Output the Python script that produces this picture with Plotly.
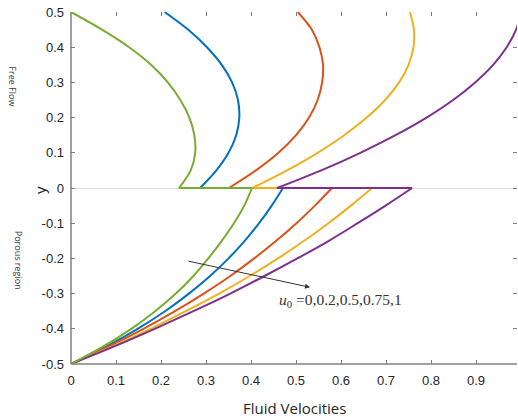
import plotly.graph_objects as go

# Velocity profiles for five values of the interface velocity u0
labels = ["u0=0.2", "u0=0.5", "u0=0.75", "u0=1", "u0=0"]
colors = ["#0072BD", "#D95319", "#EDB120", "#7E2F8E", "#77AC30"]

# Free-flow region, y from 0.5 down to 0
y_free = [0.5, 0.45, 0.4, 0.35, 0.3, 0.25, 0.2, 0.15, 0.1, 0.05, 0.0]
u_free = [
    [0.208, 0.260, 0.302, 0.335, 0.358, 0.371, 0.374, 0.367, 0.350, 0.323, 0.287],
    [0.504, 0.535, 0.552, 0.560, 0.558, 0.548, 0.529, 0.500, 0.461, 0.411, 0.351],
    [0.753, 0.762, 0.761, 0.750, 0.729, 0.698, 0.657, 0.607, 0.548, 0.480, 0.403],
    [1.000, 0.989, 0.968, 0.938, 0.898, 0.849, 0.790, 0.721, 0.643, 0.556, 0.458],
    [0.000, 0.069, 0.129, 0.178, 0.215, 0.243, 0.263, 0.274, 0.276, 0.266, 0.240],
]

# Porous region, y from 0 down to -0.5
y_por = [0.0, -0.05, -0.1, -0.15, -0.2, -0.25, -0.3, -0.35, -0.4, -0.45, -0.5]
u_por = [
    [0.471, 0.446, 0.418, 0.386, 0.350, 0.309, 0.262, 0.209, 0.148, 0.079, 0.0],
    [0.580, 0.542, 0.501, 0.456, 0.407, 0.354, 0.295, 0.231, 0.161, 0.084, 0.0],
    [0.669, 0.622, 0.572, 0.518, 0.460, 0.397, 0.329, 0.255, 0.177, 0.092, 0.0],
    [0.758, 0.699, 0.637, 0.573, 0.503, 0.430, 0.354, 0.272, 0.186, 0.096, 0.0],
    [0.402, 0.385, 0.362, 0.335, 0.305, 0.272, 0.233, 0.187, 0.134, 0.072, 0.0],
]

x_ticks = [0, 0.1, 0.2, 0.3, 0.4, 0.5, 0.6, 0.7, 0.8, 0.9]
x_tick_text = ["0", "0.1", "0.2", "0.3", "0.4", "0.5", "0.6", "0.7", "0.8", "0.9"]
y_ticks = [-0.5, -0.4, -0.3, -0.2, -0.1, 0, 0.1, 0.2, 0.3, 0.4, 0.5]
y_tick_text = ["-0.5", "-0.4", "-0.3", "-0.2", "-0.1", "0", "0.1", "0.2", "0.3", "0.4", "0.5"]

fig = go.Figure()
for name, col, uf, up in zip(labels, colors, u_free, u_por):
    line = dict(color=col, width=2)
    fig.add_trace(go.Scatter(x=uf, y=y_free, mode="lines", name=name,
                             line=dict(line, shape="spline", smoothing=1),
                             showlegend=False))
    # jump across the interface at y = 0
    fig.add_trace(go.Scatter(x=[uf[-1], up[0]], y=[0, 0], mode="lines",
                             line=line, showlegend=False))
    fig.add_trace(go.Scatter(x=up, y=y_por, mode="lines",
                             line=dict(line, shape="spline", smoothing=1),
                             showlegend=False))

tick_font = dict(family="Liberation Sans, Arial", size=13, color="#262626")
fig.update_xaxes(range=[0, 0.991], tickvals=x_ticks, ticktext=x_tick_text,
                 ticks="inside", ticklen=4, tickcolor="#808080", mirror="ticks",
                 showline=False, showgrid=False, zeroline=False,
                 tickfont=tick_font, ticklabelstandoff=7)
fig.update_yaxes(range=[-0.5, 0.5], tickvals=y_ticks, ticktext=y_tick_text,
                 ticks="inside", ticklen=4, tickcolor="#808080", mirror="ticks",
                 showline=False, showgrid=False, zeroline=True,
                 zerolinecolor="#dcdcdc", zerolinewidth=1,
                 tickfont=tick_font, ticklabelstandoff=6)

axis_line = dict(color="#808080", width=1.5)
fig.add_shape(type="line", xref="paper", yref="paper", x0=0, y0=0, x1=0, y1=1, line=axis_line)
fig.add_shape(type="line", xref="paper", yref="paper", x0=0, y0=0, x1=1, y1=0, line=axis_line)

# trend arrow and its label
fig.add_annotation(x=0.531, y=-0.282, ax=0.258, ay=-0.207, xref="x", yref="y",
                   axref="x", ayref="y", showarrow=True, arrowhead=2, arrowsize=1,
                   arrowwidth=1, arrowcolor="#333333", text="")
fig.add_annotation(x=0.458, y=-0.32, xref="x", yref="y", showarrow=False,
                   xanchor="left", yanchor="middle",
                   text="<i>u</i><sub>0</sub> =0,0.2,0.5,0.75,1",
                   font=dict(family="Liberation Serif, Times New Roman", size=15.5, color="#333333"))

# axis titles and region labels
fig.add_annotation(x=0.5, y=-0.125, xref="paper", yref="paper", showarrow=False,
                   text="Fluid Velocities", xanchor="center", yanchor="middle",
                   font=dict(family="Open Sans", size=15, color="#262626"))
fig.add_annotation(x=-0.0695, y=0.494, xref="paper", yref="paper", showarrow=False,
                   text="y", textangle=-90, xanchor="center", yanchor="middle",
                   font=dict(family="Liberation Sans, Arial", size=15, color="#262626"))
fig.add_annotation(x=-0.131, y=0.79, xref="paper", yref="paper", showarrow=False,
                   text="Free Flow", textangle=90, xanchor="center", yanchor="middle",
                   font=dict(family="Open Sans", size=9, color="#404040"))
fig.add_annotation(x=-0.118, y=0.295, xref="paper", yref="paper", showarrow=False,
                   text="Porous region", textangle=90, xanchor="center", yanchor="middle",
                   font=dict(family="Open Sans", size=9, color="#404040"))

fig.update_layout(width=518, height=417, margin=dict(l=71, r=1, t=12, b=53),
                  plot_bgcolor="white", paper_bgcolor="white")

fig.write_html("out.html")
